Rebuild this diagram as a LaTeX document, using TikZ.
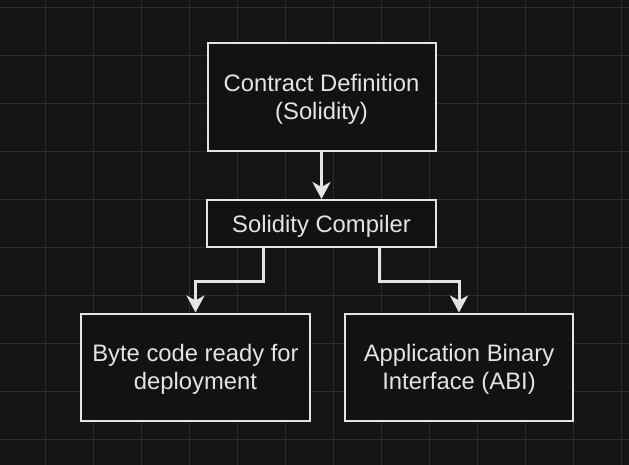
\documentclass[tikz,border=0pt]{standalone}
\usepackage{fontspec}
\setmainfont{Liberation Sans}
\usepackage{tikz}
\usetikzlibrary{positioning,arrows.meta,calc}
\definecolor{canvasbg}{RGB}{20, 20, 20}
\definecolor{gridmajor}{RGB}{44, 44, 44}
\definecolor{gridminor}{RGB}{25, 25, 25}
\definecolor{boxfill}{RGB}{18, 18, 18}
\definecolor{inkwhite}{RGB}{228, 228, 228}

\begin{document}
\begin{tikzpicture}[
        x=1pt, y=-1pt,
        block/.style={rectangle, draw=inkwhite, line width=2pt, fill=boxfill, text=inkwhite,
            align=center, inner sep=0pt, text depth=0pt, font=\fontsize{23.8}{28.5}\selectfont},
        twoline/.style={text depth=-3pt},
        arrow/.style={-{Stealth[length=17pt, width=18pt, inset=5pt]}, draw=inkwhite,
            line width=3pt}
    ]
        % background and grid
        \fill[canvasbg] (0,0) rectangle (629,465);
        \useasboundingbox (0,0) rectangle (629,465);
        \foreach \gx in {9.3,21.3,...,629} \draw[gridminor, line width=1pt] (\gx,0) -- (\gx,465);
        \foreach \gy in {7.3,19.3,...,465} \draw[gridminor, line width=1pt] (0,\gy) -- (629,\gy);
        \foreach \gx in {45.3,93.3,...,629} \draw[gridmajor, line width=1pt] (\gx,0) -- (\gx,465);
        \foreach \gy in {7.3,55.3,...,465} \draw[gridmajor, line width=1pt] (0,\gy) -- (629,\gy);

        % Contract
        \node[block, twoline, minimum width=228pt, minimum height=108pt] (contract) at (321.5,97) {Contract Definition\\(Solidity)};

        % Compiler
        \node[block, minimum width=229pt, minimum height=47pt] (compiler) at (321.5,223.5) {Solidity Compiler};

        % Outputs
        \node[block, twoline, minimum width=229pt, minimum height=107pt] (bytecode) at (195.5,367) {Byte code ready for\\deployment};
        \node[block, twoline, minimum width=228pt, minimum height=107pt] (abi) at (459,367) {Application Binary\\Interface (ABI)};

        \draw[arrow] (contract.south) -- (compiler.north);
        \draw[arrow] ($(compiler.south west)!0.25!(compiler.south east)$) -- ++(0,33) -| (bytecode.north);
        \draw[arrow] ($(compiler.south west)!0.75!(compiler.south east)$) -- ++(0,33) -| (abi.north);
    \end{tikzpicture}
\end{document}
